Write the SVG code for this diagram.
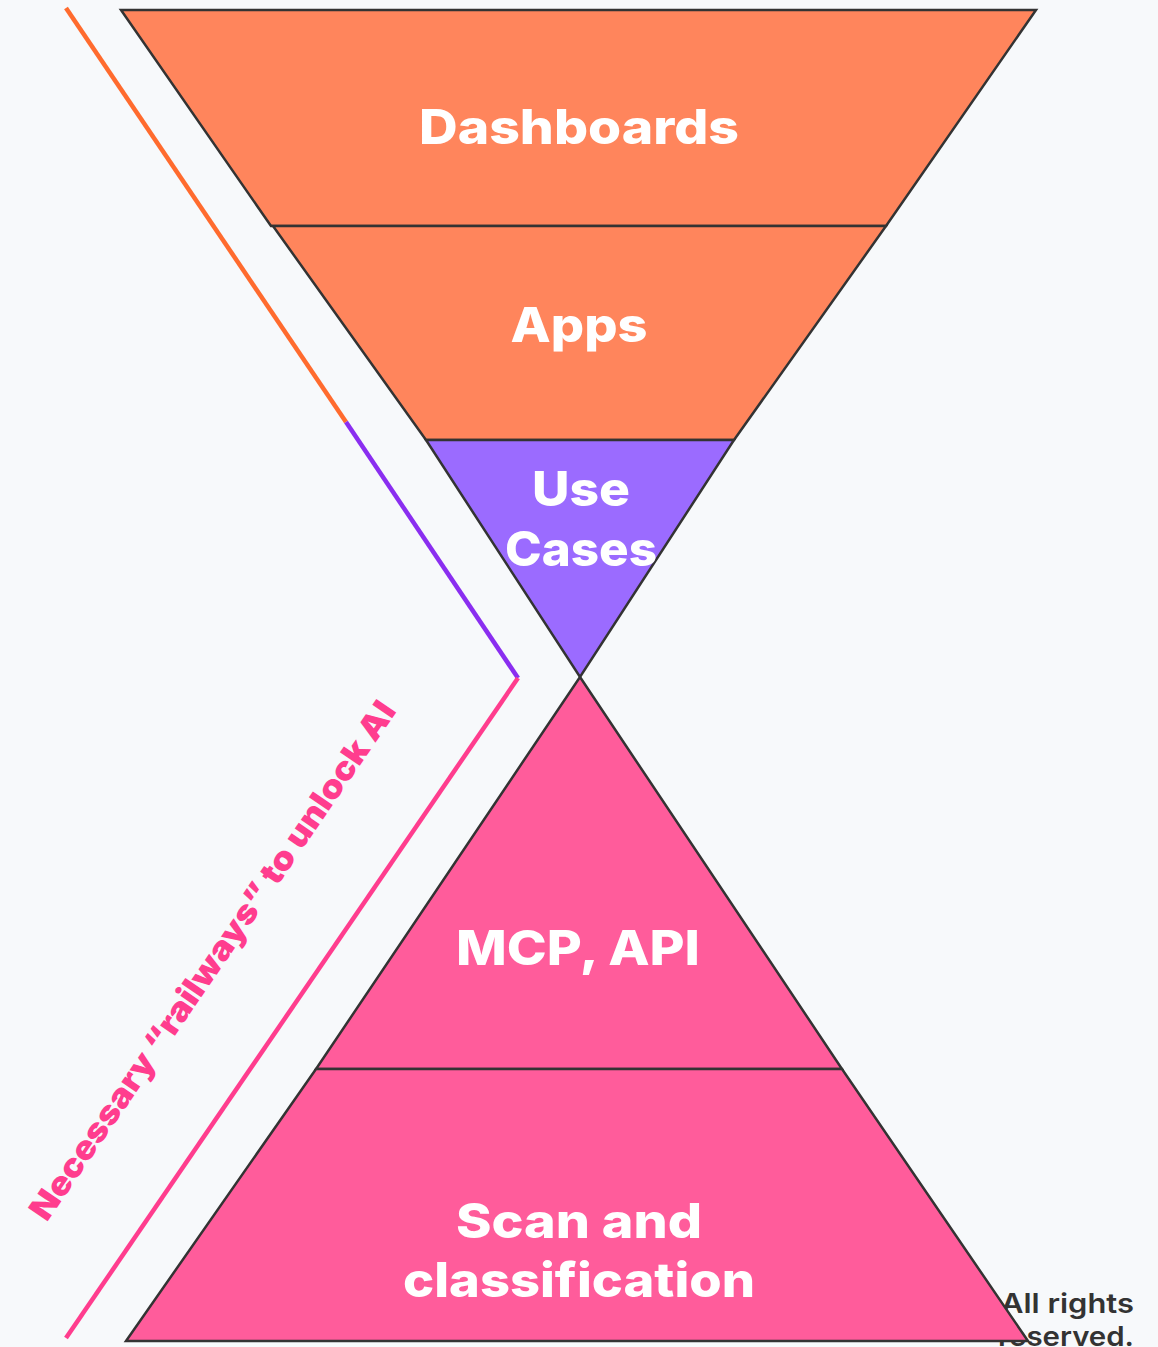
<svg xmlns="http://www.w3.org/2000/svg" width="1158" height="1347" viewBox="0 0 1158 1347">
<style>
.shape{stroke:#333333;stroke-width:2.5;stroke-linejoin:miter}
.orange{fill:#FF855C}
.purple{fill:#9B6BFF}
.pink{fill:#FF5C9B}
.lbl{font-family:"Inter","Open Sans","Liberation Sans",sans-serif;font-weight:800;fill:#ffffff;text-anchor:middle;font-size:48px}
.rail{fill:none;stroke-width:4.5;stroke-linecap:butt}
.copy{font-family:"Inter","Open Sans","Liberation Sans",sans-serif;font-weight:600;font-size:27px;fill:#333333;text-anchor:end}
</style>
<rect width="1158" height="1347" fill="#F7F9FB"/>
<g id="copyright">
<text class="copy" x="1134" y="1313" textLength="133" lengthAdjust="spacingAndGlyphs">All rights</text>
<text class="copy" x="1134" y="1346" textLength="136" lengthAdjust="spacingAndGlyphs">reserved.</text>
</g>
<g id="connectors">
<line class="rail" x1="66" y1="8" x2="346" y2="422" stroke="#FF6B2E"/>
<line class="rail" x1="346" y1="422" x2="518" y2="678" stroke="#8A2EF0"/>
<polyline class="rail" points="518,678 66,1338" stroke="#FF3D8E"/>
</g>
<g id="dashboards">
<polygon class="shape orange" points="121,10 1036,10 886,226 271,226"/>
<text class="lbl" x="579" y="144" textLength="320" lengthAdjust="spacingAndGlyphs">Dashboards</text>
</g>
<g id="apps">
<polygon class="shape orange" points="273,226 886,226 734,440 426,440"/>
<text class="lbl" x="579" y="342" textLength="137" lengthAdjust="spacingAndGlyphs">Apps</text>
</g>
<g id="use-cases">
<polygon class="shape purple" points="426,440 734,440 580,677"/>
<text class="lbl" x="581" y="506" textLength="98" lengthAdjust="spacingAndGlyphs">Use</text>
<text class="lbl" x="581" y="566" textLength="152" lengthAdjust="spacingAndGlyphs">Cases</text>
</g>
<g id="mcp-api">
<polygon class="shape pink" points="580,677 842,1069 316,1069"/>
<text class="lbl" x="578" y="965" textLength="244" lengthAdjust="spacingAndGlyphs">MCP, API</text>
</g>
<g id="scan">
<polygon class="shape pink" points="316,1069 842,1069 1028,1341 126,1341"/>
<text class="lbl" x="579" y="1238" textLength="246" lengthAdjust="spacingAndGlyphs">Scan and</text>
<text class="lbl" x="579" y="1297" textLength="352" lengthAdjust="spacingAndGlyphs">classification</text>
</g>
<g id="rail-label">
<text x="0" y="0" transform="translate(222,967) rotate(-55.6)" font-family="Inter,'Open Sans','Liberation Sans',sans-serif" font-weight="900" font-size="33" fill="#FF3D8E" text-anchor="middle" textLength="620" lengthAdjust="spacingAndGlyphs">Necessary “railways” to unlock AI</text>
</g>
</svg>
